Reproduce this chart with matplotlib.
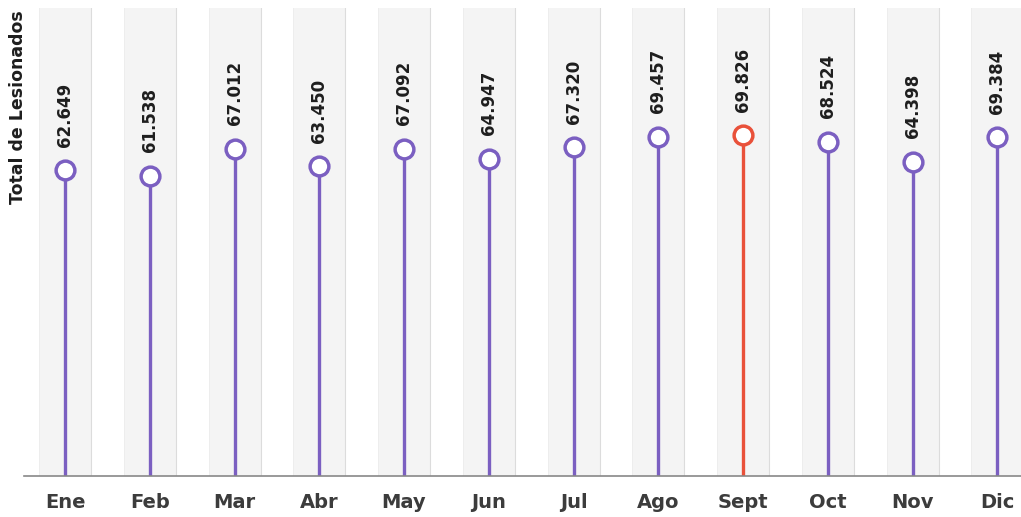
import matplotlib
matplotlib.use("Agg")
import matplotlib.pyplot as plt
import numpy as np

months = ["Ene", "Feb", "Mar", "Abr", "May", "Jun", "Jul", "Ago", "Sept", "Oct", "Nov", "Dic"]
values = [62.649, 61.538, 67.012, 63.450, 67.092, 64.947, 67.320, 69.457, 69.826, 68.524, 64.398, 69.384]
labels = ["62.649", "61.538", "67.012", "63.450", "67.092", "64.947", "67.320", "69.457", "69.826", "68.524", "64.398", "69.384"]
highlight = "Sept"

plt.rcParams['font.family'] = ['DejaVu Sans']

fig = plt.figure(figsize=(10.21, 5.17), dpi=100)
ax = fig.add_axes([24/1021, 41/517, 1 - 24/1021, 468/517])

purple = "#7b5fc1"
red = "#e9513a"
x = np.arange(len(months))
bw = 0.614
for xi in x:
    ax.axvspan(xi - bw/2, xi + bw/2, color="#f4f4f4", lw=0, zorder=0)
    ax.axvline(xi + bw/2, color="#dcdcdc", lw=0.8, zorder=0.5)
    ax.axvline(xi - bw/2, color="#ececec", lw=0.6, zorder=0.5)

for xi, m, v, lab in zip(x, months, values, labels):
    c = red if m == highlight else purple
    ax.plot([xi, xi], [0, v], color=c, lw=2.4, zorder=2, solid_capstyle='butt')
    ax.plot([xi], [v], marker='o', ms=13.5, mfc='white', mec=c, mew=2.5, zorder=3)
    ax.annotate(lab, (xi, v), xytext=(0, 17), textcoords='offset points',
                rotation=90, ha='center', va='bottom', fontsize=12,
                fontweight='bold', color='#1e1e1e')

ax.set_xlim(-0.484, 11.28)
ax.set_ylim(0, 95.9)
ax.set_xticks(x)
ax.set_xticklabels(months, fontsize=14, fontweight='bold', color='#3c3c3c')
ax.tick_params(axis='x', length=0, pad=12)
ax.set_yticks([])
for s in ['top', 'right', 'left']:
    ax.spines[s].set_visible(False)
ax.spines['bottom'].set_color('#888888')
ax.spines['bottom'].set_linewidth(1.2)

fig.text(18/1021, 1 - 10/517, "Total de Lesionados", rotation=90, ha='center', va='top',
         fontsize=12.5, fontweight='bold', color='#1e1e1e')

fig.savefig("out.png", dpi=100)
